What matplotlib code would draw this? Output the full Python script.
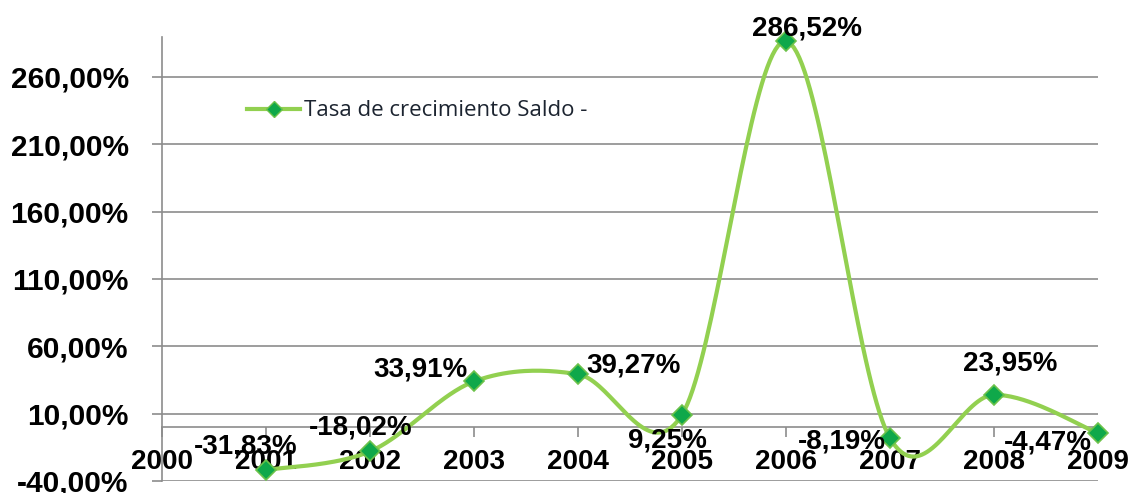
import numpy as np
import matplotlib
matplotlib.use("Agg")
import matplotlib.pyplot as plt
from matplotlib.ticker import FixedLocator
from matplotlib.lines import Line2D

# Data
years = ["2000", "2001", "2002", "2003", "2004", "2005", "2006", "2007", "2008", "2009"]
point_years = ["2001", "2002", "2003", "2004", "2005", "2006", "2007", "2008", "2009"]
growth = [-31.83, -18.02, 33.91, 39.27, 9.25, 286.52, -8.19, 23.95, -4.47]
label_texts = ["-31,83%", "-18,02%", "33,91%", "39,27%", "9,25%",
               "286,52%", "-8,19%", "23,95%", "-4,47%"]
y_ticks = [-40, 10, 60, 110, 160, 210, 260]
y_tick_labels = ["-40,00%", "10,00%", "60,00%", "110,00%", "160,00%", "210,00%", "260,00%"]
series_name = "Tasa de crecimiento Saldo -"

# label placement (pixel offsets from each point)
label_offsets = [(-20, 23), (-9, 24), (-54, 12), (56, 9), (-15, -26),
                 (21, 13), (-48, -3), (16, 31), (-50, -9)]

LINE_GREEN = "#92D050"
MARK_FACE = "#0FA84A"
MARK_EDGE = "#6CC24A"
GRID = "#8C8C8C"

plt.rcParams["font.family"] = ["Liberation Sans", "DejaVu Sans"]
plt.rcParams["font.weight"] = "bold"


def smooth_curve(xs, ys, n=40):
    """Cubic Bezier smoothing through every point (cardinal spline, tension 1/6)."""
    pts = np.column_stack([xs, ys]).astype(float)
    out = []
    m = len(pts)
    for i in range(m - 1):
        p0 = pts[i - 1] if i > 0 else pts[i]
        p1 = pts[i]
        p2 = pts[i + 1]
        p3 = pts[i + 2] if i + 2 < m else pts[i + 1]
        c1 = p1 + (p2 - p0) / 6.0
        c2 = p2 - (p3 - p1) / 6.0
        t = np.linspace(0, 1, n)[:, None]
        seg = ((1 - t) ** 3) * p1 + 3 * ((1 - t) ** 2) * t * c1 + 3 * (1 - t) * t ** 2 * c2 + t ** 3 * p2
        out.append(seg if i == 0 else seg[1:])
    s = np.vstack(out)
    return s[:, 0], s[:, 1]


fig = plt.figure(figsize=(11.34, 4.93), dpi=100)
ax = fig.add_axes([162 / 1134, 12 / 493, (1098 - 162) / 1134, (481 - 36.6) / 493])

xpos = [years.index(y) for y in point_years]

ax.set_xlim(0, len(years) - 1)
ax.set_ylim(-40, 290)

for side in ("top", "right"):
    ax.spines[side].set_visible(False)
ax.spines["left"].set_color(GRID)
ax.spines["left"].set_linewidth(1.2)
ax.spines["bottom"].set_position(("data", 0))
ax.spines["bottom"].set_color(GRID)
ax.spines["bottom"].set_linewidth(1.2)

# axes ticks and grid
ax.yaxis.set_major_locator(FixedLocator(y_ticks))
ax.set_yticklabels(y_tick_labels)
ax.set_xticks(range(len(years)))
ax.set_xticklabels(years)
ax.grid(axis="y", color=GRID, linewidth=1.2)
ax.set_axisbelow(True)

ax.tick_params(axis="y", direction="out", length=7, width=1.2, color=GRID, pad=17,
               labelsize=21.5)
ax.tick_params(axis="x", direction="out", length=7, width=1.2, color=GRID, pad=9,
               labelsize=20)

# smoothed line + markers
sx, sy = smooth_curve(xpos, growth)
ax.plot(sx, sy, color=LINE_GREEN, linewidth=3, solid_capstyle="round", zorder=3, clip_on=False)
ax.plot(xpos, growth, linestyle="none", marker="D", markersize=10.5,
        markerfacecolor=MARK_FACE, markeredgecolor=MARK_EDGE, markeredgewidth=1.2,
        zorder=4, clip_on=False)

# legend
handle = Line2D([], [], color=LINE_GREEN, linewidth=3, marker="D", markersize=8,
                markerfacecolor=MARK_FACE, markeredgecolor=MARK_EDGE)
leg = fig.legend([handle], [series_name], loc="center left",
                 bbox_to_anchor=(247 / 1134, 1 - 111 / 493), frameon=False,
                 borderpad=0, borderaxespad=0, handlelength=2.4, handletextpad=0.18,
                 prop={"family": "Open Sans", "size": 16, "weight": "normal"})
for t in leg.get_texts():
    t.set_color("#1c2430")

# value labels
for x, v, txt, (dx, dy) in zip(xpos, growth, label_texts, label_offsets):
    ax.annotate(txt, (x, v), xytext=(dx, dy), textcoords="offset pixels",
                ha="center", va="center", fontsize=20, color="black",
                zorder=5, annotation_clip=False)

fig.savefig("out.png", dpi=100)
